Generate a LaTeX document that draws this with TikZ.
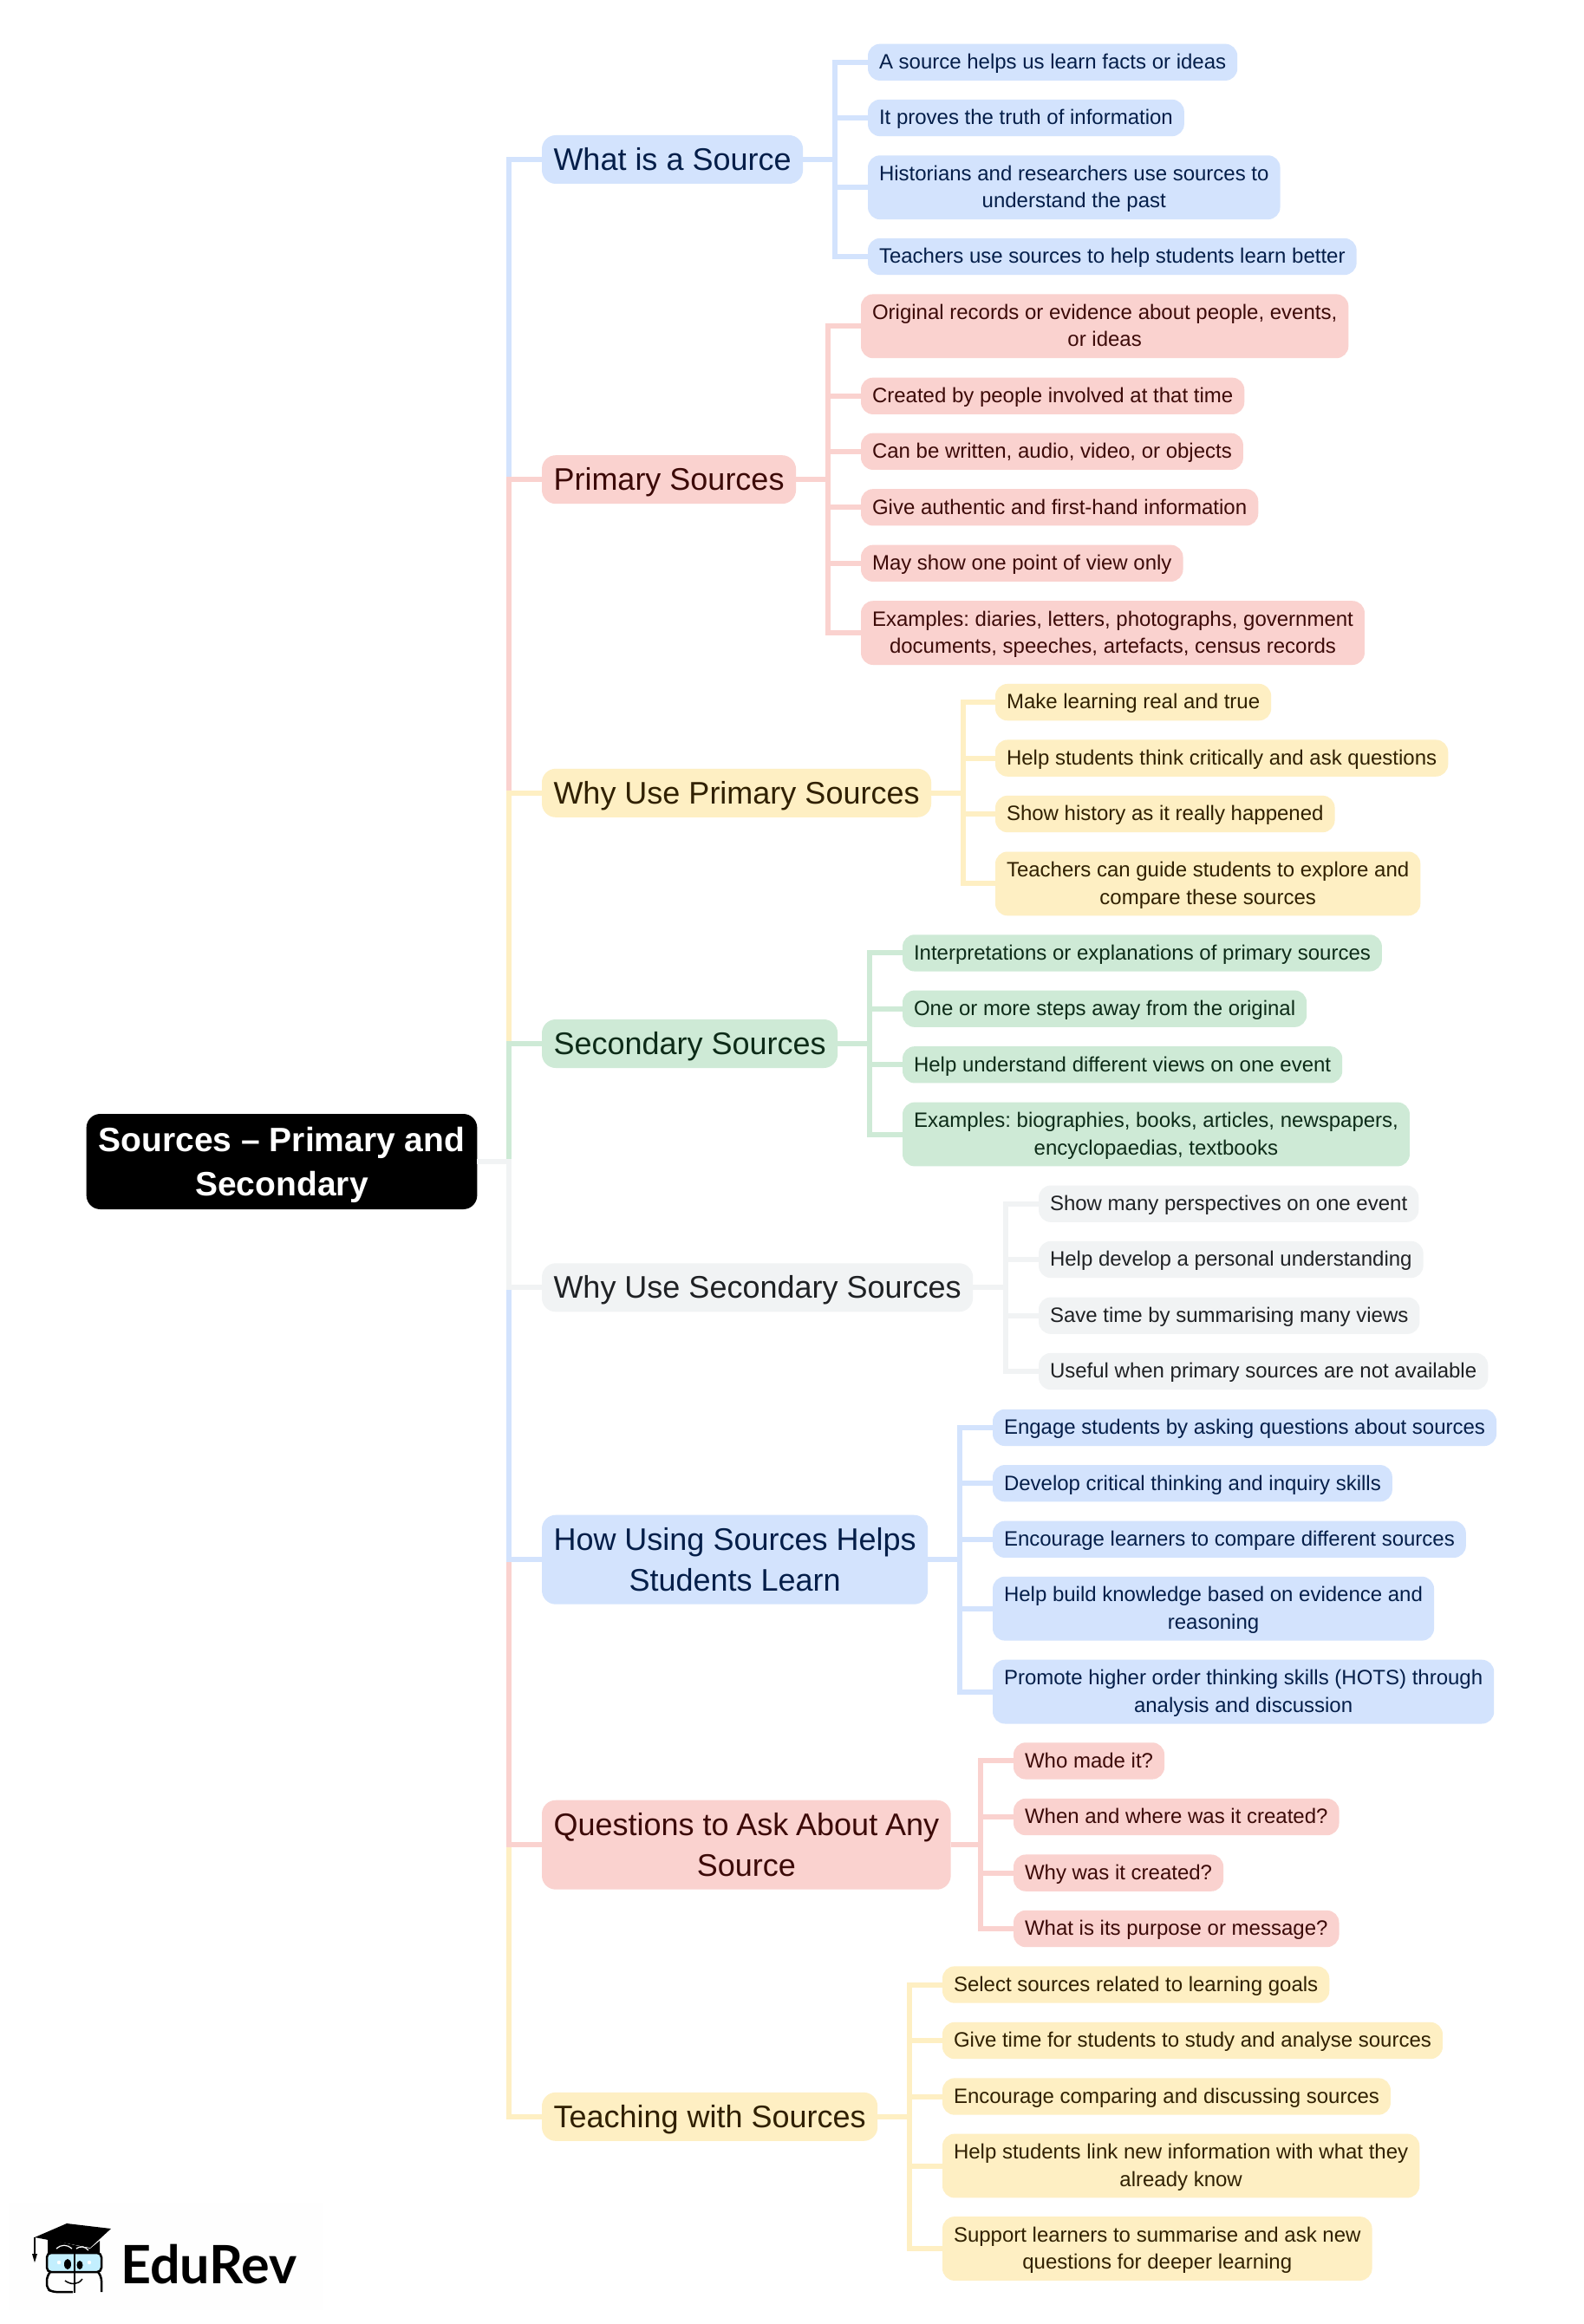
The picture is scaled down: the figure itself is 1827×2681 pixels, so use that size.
\documentclass[tikz,border=0pt]{standalone}
\usepackage{fontspec}
\setmainfont{Liberation Sans}
\newfontfamily\logofont{Lato}
\frenchspacing
\newcommand{\cs}{\rule[-7.9pt]{0pt}{31.5pt}}
\newcommand{\ps}{\rule[-11.1pt]{0pt}{47pt}}
\newcommand{\rs}{\rule[-11.6pt]{0pt}{51pt}}
\definecolor{cblue}{HTML}{D3E3FD}
\definecolor{cred}{HTML}{FAD2CF}
\definecolor{cyel}{HTML}{FEEFC3}
\definecolor{cgrn}{HTML}{CEEAD6}
\definecolor{cgry}{HTML}{F1F3F4}
\definecolor{tblue}{HTML}{041E49}
\definecolor{tred}{HTML}{3C0A08}
\definecolor{tyel}{HTML}{302000}
\definecolor{tgrn}{HTML}{0D2B18}
\definecolor{tgry}{HTML}{1F2124}
\tikzset{
 child/.style={anchor=west,align=center,font=\fontsize{24}{31.5}\selectfont,rounded corners=14pt,inner xsep=13pt,inner ysep=5.4pt,outer sep=0pt},
 parent/.style={anchor=west,align=center,font=\fontsize{36}{47}\selectfont,rounded corners=16pt,inner xsep=13.5pt,inner ysep=4.5pt,outer sep=0pt},
 rootbox/.style={anchor=center,align=center,fill=black,text=white,font=\fontsize{39}{51}\selectfont\bfseries,rounded corners=16pt,inner xsep=14pt,inner ysep=4pt,outer sep=0pt},
 bb/.style={fill=cblue,text=tblue}, rb/.style={fill=cred,text=tred}, yb/.style={fill=cyel,text=tyel}, gb/.style={fill=cgrn,text=tgrn}, kb/.style={fill=cgry,text=tgry},
 edge/.style={line width=6pt,miter limit=10},
 be/.style={edge,draw=cblue}, re/.style={edge,draw=cred}, ye/.style={edge,draw=cyel}, ge/.style={edge,draw=cgrn}, ke/.style={edge,draw=cgry},
}
\begin{document}
\begin{tikzpicture}[x=1pt,y=-1pt]
\useasboundingbox (0,0) rectangle (1827,2681);
\fill[white] (0,0) rectangle (1827,2681);
% root and parents
\node[rootbox] (root) at (325,1340) {\rs Sources – Primary and\\\rs Secondary};
\coordinate (T) at (587,1340);
\node[parent,bb] (p1) at (625,184) {\ps What is a Source};
\node[parent,rb] (p2) at (625,553.2) {\ps Primary Sources};
\node[parent,yb] (p3) at (625,914.8) {\ps Why Use Primary Sources};
\node[parent,gb] (p4) at (625,1204) {\ps Secondary Sources};
\node[parent,kb] (p5) at (625,1485.3) {\ps Why Use Secondary Sources};
\node[parent,bb] (p6) at (625,1799.2) {\ps How Using Sources Helps\\\ps Students Learn};
\node[parent,rb] (p7) at (625,2128.2) {\ps Questions to \kern-1.2pt Ask \kern-1.2pt About \kern-1.2pt Any\\\ps Source};
\node[parent,yb] (p8) at (625,2441.8) {\ps Teaching with Sources};
% trunk
\draw[be] (root.east) -- (T) |- (p1.west);
\draw[re] (root.east) -- (T) |- (p2.west);
\draw[ye] (root.east) -- (T) |- (p3.west);
\draw[ge] (root.east) -- (T) |- (p4.west);
\draw[ye] (root.east) -- (T) |- (p8.west);
\draw[re] (root.east) -- (T) |- (p7.west);
\draw[be] (root.east) -- (T) |- (p6.west);
\draw[ke] (root.east) -- (T) |- (p5.west);
% group 1
\node[child,bb] (a1) at (1001,71.8) {\cs A source helps us learn facts or ideas};
\node[child,bb] (a2) at (1001,136) {\cs It proves the truth of information};
\node[child,bb] (a3) at (1001,216.2) {\cs Historians and researchers use sources to\\\cs understand the past};
\node[child,bb] (a4) at (1001,296) {\cs Teachers use sources to help students learn better};
\coordinate (Ta) at (963,184);
\foreach \n in {1,...,4}{\draw[be] (p1.east) -- (Ta) |- (a\n.west);}
% group 2
\node[child,rb] (b1) at (993,376.3) {\cs Original records or evidence about people, events,\\\cs or ideas};
\node[child,rb] (b2) at (993,456.8) {\cs Created by people involved at that time};
\node[child,rb] (b3) at (993,520.8) {\cs Can be written, audio, video, or objects};
\node[child,rb] (b4) at (993,585.3) {\cs Give authentic and first-hand information};
\node[child,rb] (b5) at (993,649.8) {\cs May show one point of view only};
\node[child,rb] (b6) at (993,730.1) {\cs Examples: diaries, letters, photographs, government\\\cs documents, speeches, artefacts, census records};
\coordinate (Tb) at (955,553.2);
\foreach \n in {1,...,6}{\draw[re] (p2.east) -- (Tb) |- (b\n.west);}
% group 3
\node[child,yb] (c1) at (1148,810.1) {\cs Make learning real and true};
\node[child,yb] (c2) at (1148,874.6) {\cs Help students think critically and ask questions};
\node[child,yb] (c3) at (1148,939) {\cs Show history as it really happened};
\node[child,yb] (c4) at (1148,1019.4) {\cs Teachers can guide students to explore and\\\cs compare these sources};
\coordinate (Tc) at (1111,914.8);
\foreach \n in {1,...,4}{\draw[ye] (p3.east) -- (Tc) |- (c\n.west);}
% group 4
\node[child,gb] (d1) at (1041,1099.4) {\cs Interpretations or explanations of primary sources};
\node[child,gb] (d2) at (1041,1163.7) {\cs One or more steps away from the original};
\node[child,gb] (d3) at (1041,1228.3) {\cs Help understand different views on one event};
\node[child,gb] (d4) at (1041,1308.5) {\cs Examples: biographies, books, articles, newspapers,\\\cs encyclopaedias, textbooks};
\coordinate (Td) at (1003,1204);
\foreach \n in {1,...,4}{\draw[ge] (p4.east) -- (Td) |- (d\n.west);}
% group 5
\node[child,kb] (e1) at (1198,1388.7) {\cs Show many perspectives on one event};
\node[child,kb] (e2) at (1198,1453) {\cs Help develop a personal understanding};
\node[child,kb] (e3) at (1198,1517.7) {\cs Save time by summarising many views};
\node[child,kb] (e4) at (1198,1582) {\cs Useful when primary sources are not available};
\coordinate (Te) at (1160,1485.3);
\foreach \n in {1,...,4}{\draw[ke] (p5.east) -- (Te) |- (e\n.west);}
% group 6
\node[child,bb] (f1) at (1145,1646.9) {\cs Engage students by asking questions about sources};
\node[child,bb] (f2) at (1145,1711.2) {\cs Develop critical thinking and inquiry skills};
\node[child,bb] (f3) at (1145,1775.8) {\cs Encourage learners to compare different sources};
\node[child,bb] (f4) at (1145,1855.7) {\cs Help build knowledge based on evidence and\\\cs reasoning};
\node[child,bb] (f5) at (1145,1951.6) {\cs Promote higher order thinking skills (HOTS) through\\\cs analysis and discussion};
\coordinate (Tf) at (1107,1799.2);
\foreach \n in {1,...,5}{\draw[be] (p6.east) -- (Tf) |- (f\n.west);}
% group 7
\node[child,rb] (g1) at (1169,2031.4) {\cs Who made it?};
\node[child,rb] (g2) at (1169,2096) {\cs When and where was it created?};
\node[child,rb] (g3) at (1169,2160.6) {\cs Why was it created?};
\node[child,rb] (g4) at (1169,2225) {\cs What is its purpose or message?};
\coordinate (Tg) at (1131,2128.2);
\foreach \n in {1,...,4}{\draw[re] (p7.east) -- (Tg) |- (g\n.west);}
% group 8
\node[child,yb] (h1) at (1087,2289.5) {\cs Select sources related to learning goals};
\node[child,yb] (h2) at (1087,2354) {\cs Give time for students to study and analyse sources};
\node[child,yb] (h3) at (1087,2418.5) {\cs Encourage comparing and discussing sources};
\node[child,yb] (h4) at (1087,2498.5) {\cs Help students link new information with what they\\\cs already know};
\node[child,yb] (h5) at (1087,2594) {\cs Support learners to summarise and ask new\\\cs questions for deeper learning};
\coordinate (Th) at (1049,2441.8);
\foreach \n in {1,...,5}{\draw[ye] (p8.east) -- (Th) |- (h\n.west);}
% logo
\fill[black!0.5] (10,2541) rectangle (372,2665);
\fill[black] (40,2581) -- (77,2565) -- (128,2571) -- (104,2593) -- cycle;
\fill[black] (55,2583) -- (55,2599) -- (115,2599) -- (115,2585) -- (104,2594) -- cycle;
\draw[white,line width=1.2pt] (65,2594) .. controls (70,2589) and (78,2589) .. (83,2594);
\draw[white,line width=1.2pt] (88,2594) .. controls (92,2591) and (98,2591) .. (102,2596);
\draw[black,line width=1.5pt] (40,2581) -- (40,2600);
\fill[black] (37,2600) -- (43,2600) -- (40,2610) -- cycle;
\draw[black,line width=2.5pt,fill=cblue!80!cyan!70,rounded corners=5pt] (54,2599) rectangle (117,2621);
\draw[black,line width=2.5pt] (86,2597) -- (86,2645);
\draw[black,line width=2.5pt,rounded corners=5pt] (58,2621) -- (54,2626) -- (54,2640) -- (60,2644) -- (84,2644);
\draw[black,line width=2.5pt,rounded corners=5pt] (113,2621) -- (117,2626) -- (117,2644);
\fill[black] (78,2612) ellipse [x radius=4,y radius=6];
\fill[black] (92,2613) ellipse [x radius=3.5,y radius=5];
\fill[white] (68,2610) circle (2.2) (103,2610) circle (2.2);
\draw[black,line width=1.5pt] (75,2631) .. controls (82,2636) and (90,2636) .. (95,2629);
\node[anchor=west,inner sep=0pt,font=\fontsize{61}{61}\logofont\bfseries] (logo) at (139,2612) {EduRev};
\end{tikzpicture}
\end{document}
